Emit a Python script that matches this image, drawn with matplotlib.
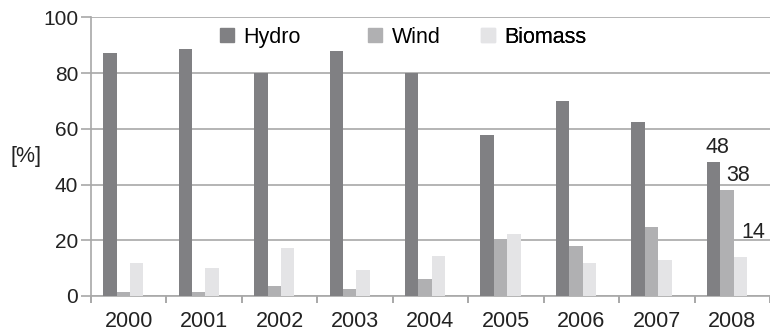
import numpy as np
import matplotlib
matplotlib.use("Agg")
import matplotlib.pyplot as plt
from matplotlib.patches import Patch

plt.rcParams['font.family'] = ['Liberation Sans', 'DejaVu Sans']

years = ['2000', '2001', '2002', '2003', '2004', '2005', '2006', '2007', '2008']
hydro = [87.3, 88.5, 80, 87.9, 80, 57.7, 70, 62.5, 48]
wind = [1.3, 1.3, 3.6, 2.6, 6.2, 20.3, 18, 24.7, 38]
biomass = [11.9, 9.9, 17.3, 9.3, 14.2, 22.1, 11.9, 12.9, 14]
names = ['Hydro', 'Wind', 'Biomass']
colors = ['#808083', '#b0b0b2', '#e4e4e6']

fig = plt.figure(figsize=(7.70, 3.34), dpi=100)
ax = fig.add_axes([0.118, 0.114, 0.882, 0.834])

x = np.arange(len(years))
w = 0.178
off = -0.07
ax.bar(x + off - w, hydro, w, color=colors[0], zorder=3)
ax.bar(x + off, wind, w, color=colors[1], zorder=3)
ax.bar(x + off + w, biomass, w, color=colors[2], zorder=3)

# labels on the last group
fs = 15.5
ax.text(x[-1] + off - w + 0.05, hydro[-1] + 1.5, str(int(hydro[-1])), ha='center', va='bottom', fontsize=fs, color='#222222')
ax.text(x[-1] + off + 0.15, wind[-1] + 1.5, str(int(wind[-1])), ha='center', va='bottom', fontsize=fs, color='#222222')
ax.text(x[-1] + off + w + 0.17, biomass[-1] + 5, str(int(biomass[-1])), ha='center', va='bottom', fontsize=fs, color='#222222')

ax.set_ylim(0, 100)
ax.set_xlim(-0.5, 8.415)
ax.set_yticks(range(0, 101, 20))
ax.yaxis.grid(True, color='#a8a8a8', linewidth=1.2, zorder=0)
ax.set_axisbelow(True)

ax.set_xticks(x)
ax.set_xticklabels(years)
ax.set_xticks(np.arange(-0.5, 9, 1), minor=True)
ax.tick_params(axis='x', which='major', length=0, labelsize=fs, pad=11, labelcolor='#222222')
ax.tick_params(axis='x', which='minor', length=5, color='#999999', width=1.2)
ax.tick_params(axis='y', length=7, color='#a8a8a8', labelsize=15, labelcolor='#222222', width=1.2, pad=2)

for s in ['top', 'right']:
    ax.spines[s].set_visible(False)
ax.spines['left'].set_color('#a8a8a8')
ax.spines['bottom'].set_color('#a8a8a8')
ax.spines['left'].set_linewidth(1.2)
ax.spines['bottom'].set_linewidth(1.2)

ax.set_ylabel('[%]', rotation=0, fontsize=fs, color='#222222', va='center', ha='center')
ax.yaxis.set_label_coords(-0.096, 0.5)

# legend entries placed one by one
leg_x = [0.19, 0.408, 0.574]
for i in range(3):
    lg = ax.legend(handles=[Patch(color=colors[i], label=names[i])], loc='center left',
                   bbox_to_anchor=(leg_x[i], 0.929), frameon=False, fontsize=fs,
                   handlelength=0.65, handleheight=0.65, handletextpad=0.45,
                   borderaxespad=0, borderpad=0)
    ax.add_artist(lg)

plt.savefig('out.png', dpi=100)
